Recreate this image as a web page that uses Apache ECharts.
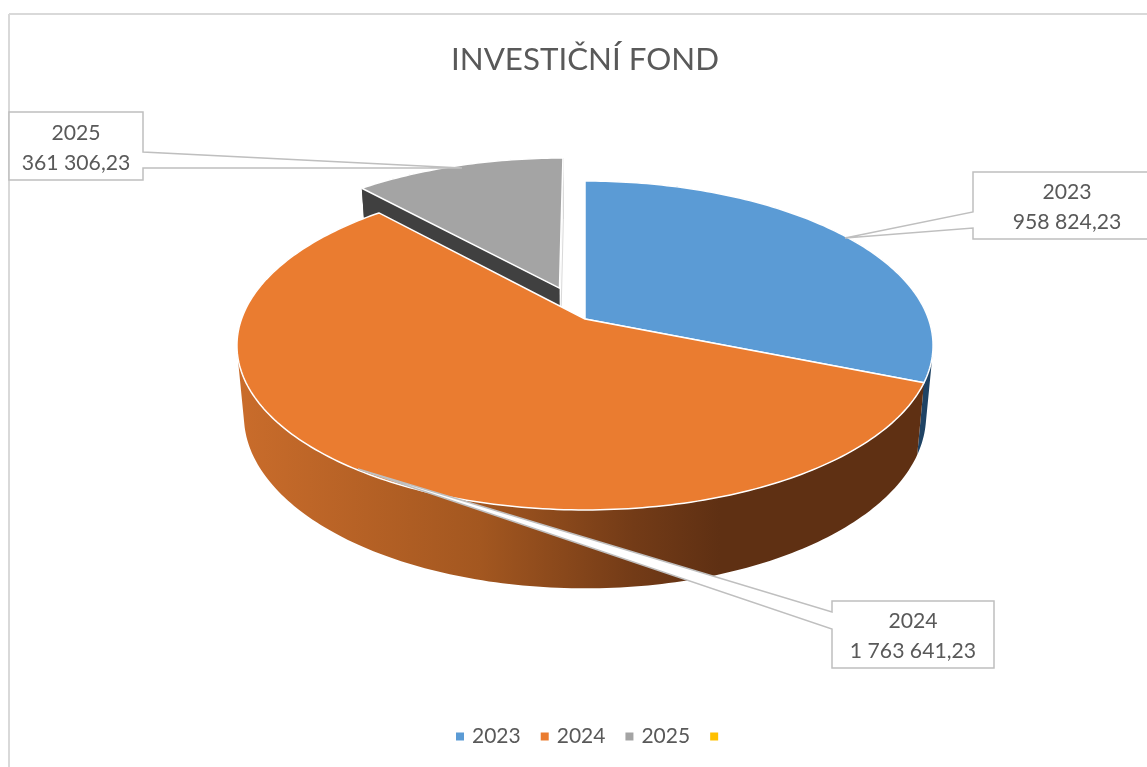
<!DOCTYPE html>
<html>
<head>
<meta charset="utf-8">
<style>html,body{margin:0;padding:0;background:#fff}#c{width:1147px;height:767px}</style>
<script src="https://cdn.jsdelivr.net/npm/echarts@6/dist/echarts.min.js"></script>
</head>
<body>
<div id="c"></div>
<script>
const titleText = 'INVESTIČNÍ FOND';
const categories = ['2023', '2024', '2025', ' '];
const values = [958824.23, 1763641.23, 361306.23, 0];
const topColors = ['#5b9bd5', '#ea7c30', '#a4a4a4', '#ffc000'];
const explode = [0, 0, 0.213, 0];

const FONT = 'Lato';
const TEXT = '#595959';
const view = { cx: 585, cy: 319, rx: 343.5, ry: 160.2, p: 0.161, depth: 69, shrink: 0.98 };

const total = values.reduce((a, b) => a + b, 0);
const spans = [];
values.reduce((start, v) => {
  const end = start + v / total * 360;
  spans.push([start, end]);
  return end;
}, 0);

function project(u, v, level) {
  const w = 1 - view.p * v;
  const s = level ? view.shrink : 1;
  return [
    view.cx + s * view.rx * u / w,
    view.cy + s * view.ry * v / w + (level ? view.depth / w : 0)
  ];
}
function rimPoint(deg, i, level) {
  const r = deg * Math.PI / 180;
  const mid = (spans[i][0] + spans[i][1]) / 2 * Math.PI / 180;
  return project(Math.sin(r) + explode[i] * Math.sin(mid),
                 -Math.cos(r) - explode[i] * Math.cos(mid), level);
}
function apex(i, level) {
  const mid = (spans[i][0] + spans[i][1]) / 2 * Math.PI / 180;
  return project(explode[i] * Math.sin(mid), -explode[i] * Math.cos(mid), level);
}
function rim(i, level) {
  const pts = [];
  const [a, b] = spans[i];
  for (let d = a; d < b; d += 1) pts.push(rimPoint(d, i, level));
  pts.push(rimPoint(b, i, level));
  return pts;
}
function poly(points, style) {
  return { type: 'polygon', shape: { points }, style };
}

const orangeWall = new echarts.graphic.LinearGradient(240, 0, 720, 0, [
  { offset: 0, color: '#c96c2b' },
  { offset: 0.5, color: '#a35720' },
  { offset: 0.82, color: '#733b17' },
  { offset: 1, color: '#5f3013' }
], true);
const wallFill = ['#1f4364', orangeWall, '#404040', '#000'];

// One path holding every wall quad, all wound the same way, so the fill has no seams.
function wallPath(top, bottom, fill) {
  let d = '';
  const all = top.concat(bottom);
  const xs = all.map(p => p[0]), ys = all.map(p => p[1]);
  const x = Math.min(...xs), y = Math.min(...ys);
  for (let k = 0; k + 1 < top.length; k++) {
    let q = [top[k], top[k + 1], bottom[k + 1], bottom[k]];
    let area = 0;
    q.forEach((p, n) => { const r = q[(n + 1) % 4]; area += p[0] * r[1] - r[0] * p[1]; });
    if (area < 0) q = q.reverse();
    d += 'M' + q.map(p => p[0].toFixed(3) + ' ' + p[1].toFixed(3)).join('L') + 'Z';
  }
  return {
    type: 'path',
    shape: { pathData: d, layout: 'cover', x, y, width: Math.max(...xs) - x, height: Math.max(...ys) - y },
    style: { fill }
  };
}

function renderSlice(i) {
  return function () {
    if (!values[i]) return { type: 'group', children: [] };
    const top = rim(i, 0), bottom = rim(i, 1);
    const children = [wallPath(top, bottom, wallFill[i])];
    if (explode[i]) {
      children.push(poly([top[top.length - 1], apex(i, 0), apex(i, 1), bottom[bottom.length - 1]],
        { fill: '#fff', stroke: '#d9d9d9', lineWidth: 1 }));
      children.push(poly([top[0], apex(i, 0), apex(i, 1), bottom[0]], { fill: wallFill[i] }));
    }
    children.push(poly([apex(i, 0)].concat(top),
      { fill: topColors[i], stroke: '#fff', lineWidth: 1.5, lineJoin: 'round' }));
    return { type: 'group', children };
  };
}

function formatValue(v) {
  const [whole, dec] = v.toFixed(2).split('.');
  return whole.replace(/\B(?=(\d{3})+$)/g, ' ') + ',' + dec;
}

const callouts = [
  { i: 0, outline: [[973, 172], [1150, 172], [1150, 239], [973, 239], [973, 228], [845, 238], [973, 212]], tx: 1067, ty: 207 },
  { i: 1, outline: [[832, 601], [994, 601], [994, 668], [832, 668], [832, 629], [358, 469], [832, 612]], tx: 913, ty: 636 },
  { i: 2, outline: [[9, 112], [143, 112], [143, 152], [462, 168], [143, 168], [143, 180], [9, 180]], tx: 76, ty: 148 }
];

function renderCallouts() {
  const children = [];
  callouts.forEach(c => {
    children.push(poly(c.outline, { fill: '#fff', stroke: '#bfbfbf', lineWidth: 1.5 }));
    children.push({
      type: 'text',
      style: {
        text: categories[c.i] + '\n' + formatValue(values[c.i]),
        x: c.tx, y: c.ty, align: 'center', verticalAlign: 'middle',
        fill: TEXT, font: '21.2px ' + FONT, lineHeight: 30.5
      }
    });
  });
  return { type: 'group', children };
}

const zOrder = [3, 4, 2, 1];
const series = categories.map((name, i) => ({
  type: 'custom',
  name,
  coordinateSystem: 'none',
  z: zOrder[i],
  silent: true,
  itemStyle: { color: topColors[i] },
  data: [values[i]],
  renderItem: renderSlice(i)
}));
series.push({
  type: 'custom',
  name: 'callouts',
  coordinateSystem: 'none',
  z: 10,
  silent: true,
  data: [0],
  renderItem: renderCallouts
});

const chart = echarts.init(document.getElementById('c'), null, { renderer: 'canvas' });
chart.setOption({
  animation: false,
  backgroundColor: '#fff',
  title: {
    text: titleText,
    left: 580,
    top: 39,
    textAlign: 'center',
    textStyle: { fontFamily: FONT, fontSize: 31.3, fontWeight: 'normal', color: TEXT }
  },
  legend: {
    data: categories,
    left: 456,
    top: 726,
    padding: 0,
    icon: 'rect',
    itemWidth: 8,
    itemHeight: 8,
    itemGap: 20,
    selectedMode: false,
    textStyle: { fontFamily: FONT, fontSize: 21, color: TEXT, padding: [0, 0, 0, 3] }
  },
  graphic: [
    { type: 'line', z: 0, shape: { x1: 9, y1: 14, x2: 1147, y2: 14 }, style: { stroke: '#d9d9d9', lineWidth: 2 } },
    { type: 'line', z: 0, shape: { x1: 9, y1: 14, x2: 9, y2: 767 }, style: { stroke: '#d9d9d9', lineWidth: 2 } }
  ],
  series
});
</script>
</body>
</html>
